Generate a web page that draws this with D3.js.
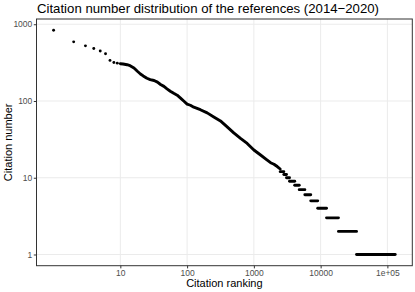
<!DOCTYPE html>
<html><head><meta charset="utf-8">
<script src="https://cdn.jsdelivr.net/npm/d3@7"></script>
<style>body{margin:0;background:#fff}svg{display:block}text{font-family:"Liberation Sans",Arial,sans-serif}</style>
</head><body>
<svg id="chart" width="415" height="292"></svg>
<script>
// Top-ranked references, shown as separate points
const topRanks = [1, 2, 3, 4, 5, 6, 7, 8, 9];
const topCitations = [836, 590, 523, 483, 448, 413, 338, 318, 311];
// Dense part of the distribution (rank, citations)
const curveRanks = [10, 11, 12.6, 14, 16, 18, 20, 22, 25, 28, 32, 36, 40, 45, 50, 56, 63, 71, 79, 89, 100, 112, 126, 158, 200, 251, 316, 398, 500, 631, 794, 1000, 1260, 1585, 1780, 2000, 2240, 2480];
const curveCitations = [306, 303, 297, 288, 269, 244, 225, 212, 198, 190, 185, 176, 164, 155, 144, 134, 126, 119, 110, 100, 91, 88, 83, 77, 70, 62, 55, 46, 38.4, 32.5, 28, 23, 19.8, 17, 15.7, 15, 14, 13];
// Low citation tail: each level spans ranks up to its last rank
const tailFirstRank = 2480;
const tailCitations = [12, 11, 10, 9, 8, 7, 6, 5, 4, 3, 2, 1];
const tailLastRank = [2810, 3080, 3420, 4090, 4780, 5800, 7110, 9050, 12250, 18500, 34500, 131000];
const xTicks = [10, 100, 1000, 10000, 100000];
const xTickLabels = ["10", "100", "1000", "10000", "1e+05"];
const yTicks = [1, 10, 100, 1000];
const yTickLabels = ["1", "10", "100", "1000"];

const svg = d3.select("#chart");
const panel = {left: 36.5, right: 412.3, top: 19, bottom: 265.7};

function expandLog(lo, hi) {
  const a = Math.log10(lo), b = Math.log10(hi), e = (b - a) * 0.05;
  return [Math.pow(10, a - e), Math.pow(10, b + e)];
}
const xMax = d3.max(tailLastRank), yMax = d3.max(topCitations);
const x = d3.scaleLog().domain(expandLog(1, xMax)).range([panel.left, panel.right]);
const y = d3.scaleLog().domain(expandLog(1, yMax)).range([panel.bottom, panel.top]);

// grid
const g = svg.append("g");
g.append("rect").attr("x", panel.left).attr("y", panel.top)
  .attr("width", panel.right - panel.left).attr("height", panel.bottom - panel.top).attr("fill", "#fff");
g.selectAll(".gx").data(xTicks).enter().append("line")
  .attr("x1", d => x(d)).attr("x2", d => x(d)).attr("y1", panel.top).attr("y2", panel.bottom)
  .attr("stroke", "#EBEBEB").attr("stroke-width", 1);
g.selectAll(".gy").data(yTicks).enter().append("line")
  .attr("y1", d => y(d)).attr("y2", d => y(d)).attr("x1", panel.left).attr("x2", panel.right)
  .attr("stroke", "#EBEBEB").attr("stroke-width", 1);

// data
const pt = 2.9;
const curve = curveRanks.map((r, i) => [r, curveCitations[i]]);
svg.append("path").datum(curve)
  .attr("d", d3.line().x(d => x(d[0])).y(d => y(d[1])))
  .attr("fill", "none").attr("stroke", "#000").attr("stroke-width", pt)
  .attr("stroke-linejoin", "round").attr("stroke-linecap", "round");
const tail = tailCitations.map((c, i) => ({c, a: i === 0 ? tailFirstRank : tailLastRank[i - 1] + 1, b: tailLastRank[i]}));
svg.selectAll(".run").data(tail).enter().append("line")
  .attr("x1", d => x(d.a)).attr("x2", d => x(d.b)).attr("y1", d => y(d.c)).attr("y2", d => y(d.c))
  .attr("stroke", "#000").attr("stroke-width", pt).attr("stroke-linecap", "round");
svg.selectAll(".pt").data(topRanks).enter().append("circle")
  .attr("cx", d => x(d)).attr("cy", (d, i) => y(topCitations[i])).attr("r", pt / 2).attr("fill", "#000");

// border
svg.append("rect").attr("x", panel.left).attr("y", panel.top)
  .attr("width", panel.right - panel.left).attr("height", panel.bottom - panel.top)
  .attr("fill", "none").attr("stroke", "#333").attr("stroke-width", 1);

// axes
const xAxis = d3.axisBottom(x).tickValues(xTicks).tickFormat((d, i) => xTickLabels[i]).tickSize(2.7).tickPadding(1.5);
const yAxis = d3.axisLeft(y).tickValues(yTicks).tickFormat((d, i) => yTickLabels[i]).tickSize(2.7).tickPadding(1.5);
const xa = svg.append("g").attr("transform", `translate(0,${panel.bottom})`).call(xAxis);
const ya = svg.append("g").attr("transform", `translate(${panel.left},0)`).call(yAxis);
[xa, ya].forEach(a => {
  a.select(".domain").remove();
  a.selectAll(".tick line").attr("stroke", "#333").attr("stroke-width", 1);
  a.selectAll(".tick text").attr("fill", "#4D4D4D").style("font-size", "8.5px")
    .style("font-family", '"Liberation Sans",Arial,sans-serif');
});

// titles
svg.append("text").attr("x", 37).attr("y", 13).attr("fill", "#000").style("font-size", "13.2px")
  .text("Citation number distribution of the references (2014\u22122020)");
svg.append("text").attr("x", (panel.left + panel.right) / 2).attr("y", 286.5).attr("text-anchor", "middle")
  .attr("fill", "#000").style("font-size", "11px").text("Citation ranking");
svg.append("text").attr("transform", `translate(12,${(panel.top + panel.bottom) / 2}) rotate(-90)`)
  .attr("text-anchor", "middle").attr("fill", "#000").style("font-size", "11px").text("Citation number");
</script>
</body></html>
